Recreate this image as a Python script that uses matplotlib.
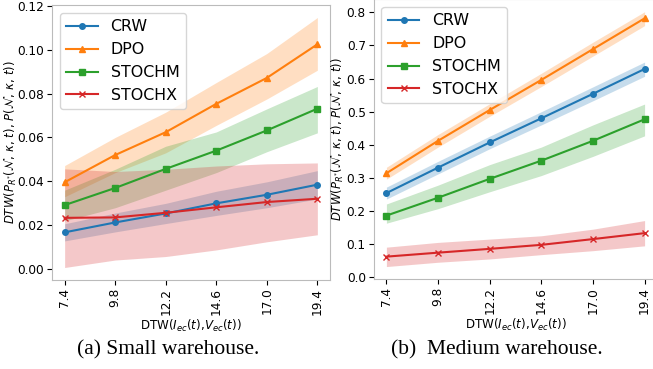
import matplotlib
matplotlib.use("Agg")
import matplotlib.pyplot as plt

x_vals = [7.4, 9.8, 12.2, 14.6, 17.0, 19.4]
x_ticklabels = ["7.4", "9.8", "12.2", "14.6", "17.0", "19.4"]
series_names = ["CRW", "DPO", "STOCHM", "STOCHX"]

# Small warehouse
small_crw = [0.0168, 0.0213, 0.0254, 0.0300, 0.0339, 0.0385]
small_crw_lo = [0.0129, 0.0170, 0.0208, 0.0245, 0.0280, 0.0320]
small_crw_hi = [0.0207, 0.0256, 0.0300, 0.0355, 0.0398, 0.0449]
small_dpo = [0.0396, 0.0520, 0.0624, 0.0753, 0.0871, 0.1024]
small_dpo_lo = [0.0330, 0.0440, 0.0530, 0.0655, 0.0775, 0.0906]
small_dpo_hi = [0.0472, 0.0600, 0.0715, 0.0850, 0.0982, 0.1146]
small_stochm = [0.0292, 0.0370, 0.0457, 0.0540, 0.0632, 0.0731]
small_stochm_lo = [0.0220, 0.0280, 0.0360, 0.0440, 0.0535, 0.0621]
small_stochm_hi = [0.0360, 0.0455, 0.0560, 0.0625, 0.0730, 0.0832]
small_stochx = [0.0234, 0.0236, 0.0257, 0.0282, 0.0306, 0.0321]
small_stochx_lo = [0.0008, 0.0042, 0.0058, 0.0088, 0.0125, 0.0157]
small_stochx_hi = [0.0457, 0.0445, 0.0455, 0.0470, 0.0480, 0.0484]

# Medium warehouse
med_crw = [0.254, 0.331, 0.407, 0.480, 0.554, 0.629]
med_crw_lo = [0.236, 0.312, 0.388, 0.460, 0.533, 0.607]
med_crw_hi = [0.272, 0.350, 0.426, 0.500, 0.575, 0.650]
med_dpo = [0.314, 0.412, 0.505, 0.596, 0.689, 0.782]
med_dpo_lo = [0.296, 0.393, 0.486, 0.576, 0.668, 0.760]
med_dpo_hi = [0.332, 0.431, 0.524, 0.616, 0.710, 0.802]
med_stochm = [0.186, 0.240, 0.297, 0.352, 0.412, 0.477]
med_stochm_lo = [0.163, 0.207, 0.258, 0.307, 0.365, 0.427]
med_stochm_hi = [0.221, 0.278, 0.340, 0.393, 0.460, 0.523]
med_stochx = [0.062, 0.074, 0.0855, 0.0976, 0.115, 0.133]
med_stochx_lo = [0.032, 0.045, 0.055, 0.068, 0.080, 0.0946]
med_stochx_hi = [0.0906, 0.105, 0.115, 0.125, 0.145, 0.171]

colors = ["#1f77b4", "#ff7f0e", "#2ca02c", "#d62728"]
markers = ["o", "^", "s", "x"]

W, H = 653, 369
fig = plt.figure(figsize=(W / 100, H / 100), dpi=100)

def px_axes(l, t, r, b):
    return fig.add_axes([l / W, 1 - b / H, (r - l) / W, (b - t) / H])

ax1 = px_axes(52, 5, 330, 280)
ax2 = px_axes(373.5, -1, 657.5, 279.3)

small = [(small_crw, small_crw_lo, small_crw_hi), (small_dpo, small_dpo_lo, small_dpo_hi),
         (small_stochm, small_stochm_lo, small_stochm_hi), (small_stochx, small_stochx_lo, small_stochx_hi)]
medium = [(med_crw, med_crw_lo, med_crw_hi), (med_dpo, med_dpo_lo, med_dpo_hi),
          (med_stochm, med_stochm_lo, med_stochm_hi), (med_stochx, med_stochx_lo, med_stochx_hi)]

tick_fs = 8.7
ylabel = r"$DTW(P_{R^{*}}(\mathcal{N},\,\kappa,\,t),\,P(\mathcal{N},\,\kappa,\,t))$"
xlabel = r"DTW($I_{ec}(t)$,$V_{ec}(t)$)"

for ax, data, ylab_x in [(ax1, small, (11 - 52) / 278), (ax2, medium, (338 - 373.5) / 284)]:
    for (m, lo, hi), name, c, mk in zip(data, series_names, colors, markers):
        ax.plot(x_vals, m, color=c, marker=mk, markersize=4, linewidth=1.5, label=name)
        ax.fill_between(x_vals, lo, hi, color=c, alpha=0.25, linewidth=0)
    ax.set_xticks(x_vals)
    ax.set_xticklabels(x_ticklabels, rotation=90)
    ax.tick_params(labelsize=tick_fs, pad=2)
    ax.set_xlabel(xlabel, fontsize=8.6, labelpad=2)
    ax.set_ylabel(ylabel, fontsize=8.4, va="center")
    ax.yaxis.set_label_coords(ylab_x, 0.5)
    ax.legend(loc="upper left", fontsize=11.4, labelspacing=0.5)
    for s in ax.spines.values():
        s.set_color("#bbbbbb")

fig.text(168 / W, 1 - 350 / H, "(a) Small warehouse.", fontsize=15.5, family="Liberation Serif",
         ha="center", va="center")
fig.text(497 / W, 1 - 350 / H, "(b)  Medium warehouse.", fontsize=15.5, family="Liberation Serif",
         ha="center", va="center")

fig.savefig("out.png", dpi=100)
